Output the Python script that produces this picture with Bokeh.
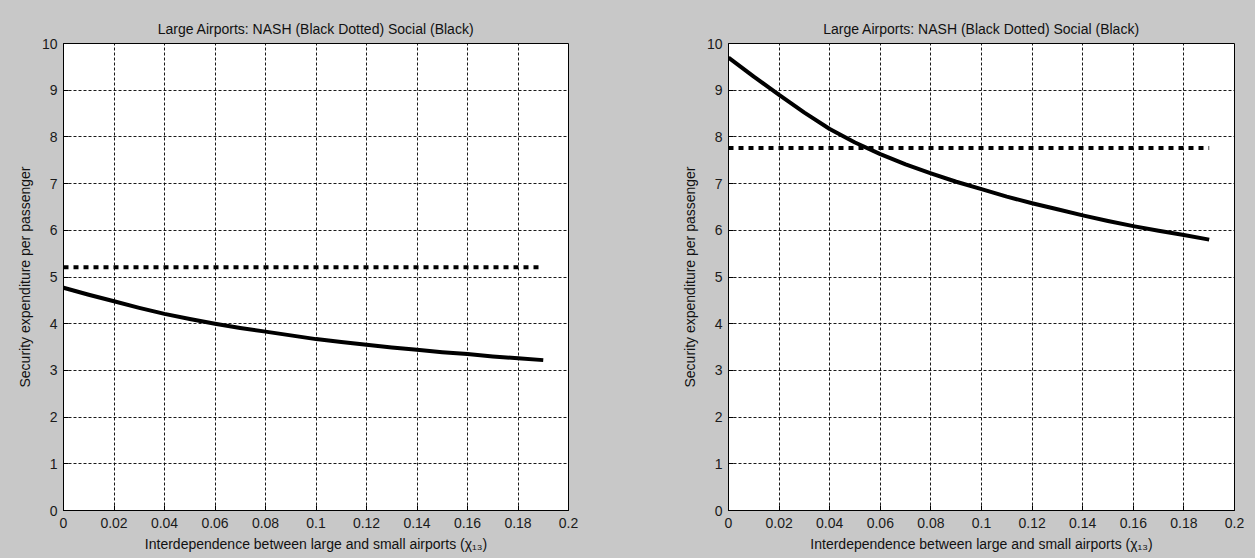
from bokeh.plotting import figure
from bokeh.layouts import row
from bokeh.models import Range1d, FixedTicker
from bokeh.embed import file_html
from bokeh.resources import INLINE

# ---- data ----
x_social = [0.00, 0.01, 0.02, 0.03, 0.04, 0.05, 0.06, 0.07, 0.08, 0.09,
            0.10, 0.11, 0.12, 0.13, 0.14, 0.15, 0.16, 0.17, 0.18, 0.19]
left_social = [4.77, 4.62, 4.48, 4.34, 4.21, 4.10, 4.00, 3.91, 3.83, 3.75,
               3.67, 3.61, 3.55, 3.49, 3.44, 3.39, 3.35, 3.30, 3.26, 3.22]
right_social = [9.70, 9.29, 8.90, 8.52, 8.17, 7.88, 7.63, 7.41, 7.22, 7.04,
                6.88, 6.72, 6.58, 6.45, 6.32, 6.20, 6.09, 5.99, 5.90, 5.80]
x_nash = [0.00, 0.19]
left_nash = [5.21, 5.21]
right_nash = [7.76, 7.76]

x_ticks = [0, 0.02, 0.04, 0.06, 0.08, 0.1, 0.12, 0.14, 0.16, 0.18, 0.2]
x_tick_labels = ["0", "0.02", "0.04", "0.06", "0.08", "0.1", "0.12", "0.14", "0.16", "0.18", "0.2"]
y_ticks = [0, 1, 2, 3, 4, 5, 6, 7, 8, 9, 10]
y_tick_labels = ["0", "1", "2", "3", "4", "5", "6", "7", "8", "9", "10"]

title_text = "Large Airports: NASH (Black Dotted) Social (Black)"
x_label = "Interdependence between large and small airports (\u03c7\u2081\u2083)"
y_label = "Security expenditure per passenger"

FONT = "Liberation Sans"
GRAY = "#c8c8c8"


def make_plot(width, border_left, border_right, social, nash):
    p = figure(width=width, height=558, output_backend="svg", toolbar_location=None,
               x_range=Range1d(0, 0.2), y_range=Range1d(0, 10),
               min_border_left=border_left, min_border_right=border_right,
               min_border_top=43, min_border_bottom=48,
               background_fill_color="white", border_fill_color=GRAY,
               outline_line_color="black", outline_line_width=1)
    p.title.text = title_text
    p.title.align = "center"
    p.title.text_font = FONT
    p.title.text_font_size = "14px"
    p.title.text_font_style = "normal"
    p.title.text_color = "#111111"
    p.title.standoff = 13

    for ax, ticks, labels in ((p.xaxis[0], x_ticks, x_tick_labels), (p.yaxis[0], y_ticks, y_tick_labels)):
        ax.ticker = FixedTicker(ticks=ticks)
        ax.major_label_overrides = {t: l for t, l in zip(ticks, labels)}
        ax.major_tick_in = 5
        ax.major_tick_out = 0
        ax.minor_tick_in = 0
        ax.minor_tick_out = 0
        ax.axis_line_color = "black"
        ax.major_tick_line_color = "black"
        ax.major_label_text_font = FONT
        ax.major_label_text_font_size = "14px"
        ax.major_label_text_color = "#1a1a1a"
        ax.axis_label_text_font = FONT
        ax.axis_label_text_font_size = "14px"
        ax.axis_label_text_font_style = "normal"
        ax.axis_label_text_color = "#111111"
    p.xaxis.axis_label = x_label
    p.yaxis.axis_label = y_label
    p.xaxis.major_label_standoff = 7
    p.yaxis.major_label_standoff = 6
    p.xaxis.axis_label_standoff = 5
    p.yaxis.axis_label_standoff = 6

    p.grid.grid_line_color = "black"
    p.grid.grid_line_dash = "3 2"
    p.grid.grid_line_width = 1
    p.grid.grid_line_alpha = 0.9
    p.xgrid.ticker = FixedTicker(ticks=x_ticks)
    p.ygrid.ticker = FixedTicker(ticks=y_ticks)

    p.line(x_nash, nash, line_color="black", line_width=4, line_dash="5 5", line_cap="butt")
    p.line(x_social, social, line_color="black", line_width=4, line_join="round")
    return p


p1 = make_plot(628, 63, 60, left_social, left_nash)
p2 = make_plot(627, 100, 21, right_social, right_nash)
layout = row(p1, p2, spacing=0)
layout.styles = {"background-color": GRAY}

open("out.html", "w").write(file_html(layout, INLINE))
